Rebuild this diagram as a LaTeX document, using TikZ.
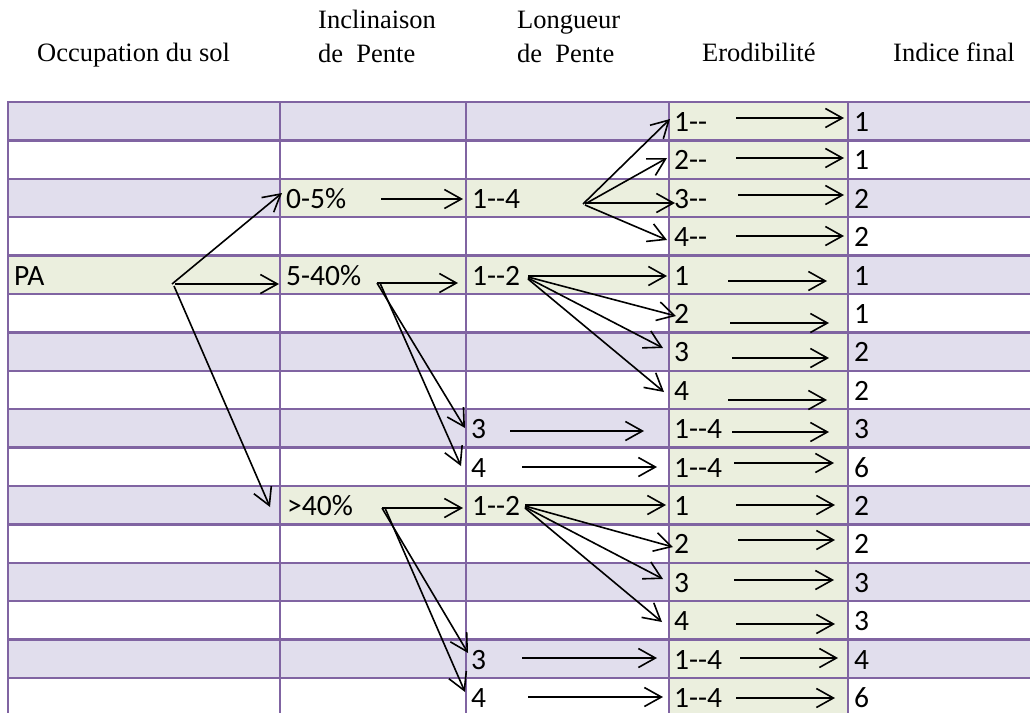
\documentclass[tikz,border=0pt]{standalone}
\usepackage{fontspec}
\setmainfont{Liberation Serif}
\newfontfamily\bodyfont{Carlito}
\usetikzlibrary{arrows.meta}
\definecolor{lav}{RGB}{225,222,237}
\definecolor{grn}{RGB}{235,239,222}
\definecolor{pur}{RGB}{128,100,162}
\begin{document}
\begin{tikzpicture}[x=1pt,y=-1pt,
  hdr/.style={anchor=base west,inner sep=0pt,font=\fontsize{26.5}{32}\selectfont},
  cell/.style={anchor=base west,inner sep=0pt,font=\bodyfont\fontsize{29.5}{34}\selectfont},
  arr/.style={-{Straight Barb[length=17pt,width=19pt]},line width=1.6pt,black},
  grid/.style={pur,line width=2.4pt}]
\useasboundingbox (0,0) rectangle (1030,713);
\fill[white] (0,0) rectangle (1030,713);
% row fills
\foreach \i in {1,3,...,15}{\fill[lav] (8,{102+(\i-1)*38.4}) rectangle (1030,{102+\i*38.4});}
\fill[grn] (669,102) rectangle (848,713);
\fill[grn] (280,178.8) rectangle (669,217.2);
\fill[grn] (8,255.6) rectangle (669,294);
\fill[grn] (280,486) rectangle (669,524.4);
% grid
\foreach \i in {0,...,16}{\draw[grid] (7,{102+\i*38.4}) -- (1030,{102+\i*38.4});}
\foreach \x in {8,280,466,669,848}{\draw[grid] (\x,101) -- (\x,713);}
% headers
\node[hdr] (h1) at (37,61) {Occupation du sol};
\node[hdr] (h2a) at (318,28) {Inclinaison};
\node[hdr] (h2b) at (318,62) {de~ Pente};
\node[hdr] (h3a) at (517,28) {Longueur};
\node[hdr] (h3b) at (517,62) {de~ Pente};
\node[hdr] (h4) at (702,61) {Erodibilité};
\node[hdr] (h5) at (893,61) {Indice final};
% body cells: col4 and col5
\foreach \r/\a/\b in {1/1--/1,2/2--/1,3/3--/2,4/4--/2,5/1/1,6/2/1,7/3/2,8/4/2,9/1--4/3,10/1--4/6,11/1/2,12/2/2,13/3/3,14/4/3,15/1--4/4,16/1--4/6}{
  \node[cell] (e\r) at (674,{102+(\r-1)*38.4+29.5}) {\a};
  \node[cell] (f\r) at (854,{102+(\r-1)*38.4+29.5}) {\b};
}
\node[cell] (pa) at (14,285) {PA};
\node[cell] (p05) at (286,208.3) {0-5\%};
\node[cell] (p540) at (286,285) {5-40\%};
\node[cell] (p40) at (287,515.5) {>40\%};
\node[cell] (l3) at (472,208.3) {1--4};
\node[cell] (l5) at (472,285) {1--2};
\node[cell] (l9) at (471,438.7) {3};
\node[cell] (l10) at (471,477.1) {4};
\node[cell] (l11) at (472,515.5) {1--2};
\node[cell] (l15) at (471,669.1) {3};
\node[cell] (l16) at (471,707.5) {4};
% arrows
\foreach \n/\sx/\sy/\ex/\ey in {
  a1/172/284/282/193, a2/175/284/279/284, a3/174/286/270/507,
  a4/381/199/463/199, a5/377/283/458/283, a6/377/283/465/428, a7/380/283/461/466,
  b1/583/204/670/119, b2/585/204/667/158, b3/585/203/675/203, b4/585/205/667/240,
  d1/528/276/667/276, d2/528/277/676/316, d3/528/278/663/348, d4/528/279/664/392,
  g9/510/431/644/431, g10/522/467/657/467,
  k1/382/508/463/508, k2/382/508/468/653, k3/385/508/465/692,
  m1/525/505/666/505, m2/525/506/673/547, m3/525/507/663/579, m4/525/508/662/622,
  g15/522/658/657/658, g16/528/697/663/697,
  r1/736/118/844/118, r2/736/158/844/158, r3/738/195/844/195, r4/736/236/844/236,
  r5/728/281/827/281, r6/730/323/829/323, r7/732/358/829/358, r8/728/400/827/400,
  r9/732/432/829/432, r10/734/463/834/463, r11/736/505/835/505, r12/738/540/835/540,
  r13/734/580/834/580, r14/736/624/835/624, r15/740/658/838/658, r16/736/698/835/698}{
  \coordinate (s\n) at (\sx,\sy);
  \coordinate (t\n) at (\ex,\ey);
  \draw[arr] (s\n) -- (t\n);
}
\end{tikzpicture}
\end{document}
